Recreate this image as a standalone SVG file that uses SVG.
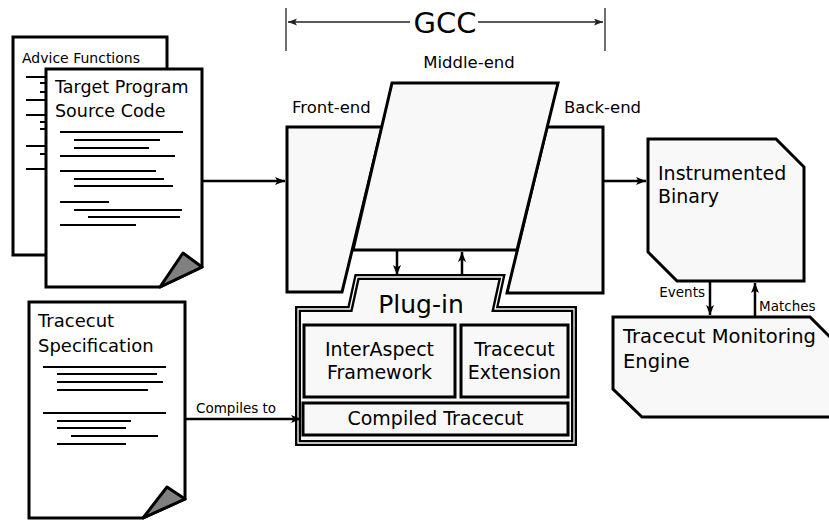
<svg xmlns="http://www.w3.org/2000/svg" width="829" height="520" viewBox="0 0 829 520">
<defs>
<style>
.t{font-family:"DejaVu Sans","Liberation Sans",sans-serif;fill:#000}
.shape{fill:#f8f8f8;stroke:#000;stroke-width:3;stroke-linejoin:miter}
.doc{fill:#fff;stroke:#000;stroke-width:3;stroke-linejoin:miter}
.flap{fill:#808080;stroke:#000;stroke-width:3;stroke-linejoin:round}
.ln{stroke:#000;stroke-width:2;fill:none}
.conn{stroke:#000;stroke-width:2.5;fill:none}
.thin{stroke:#222;stroke-width:1.3;fill:none}
</style>
<marker id="ah" markerUnits="userSpaceOnUse" markerWidth="12" markerHeight="10" refX="10" refY="4" orient="auto">
<path d="M0,0 L10,4 L0,8 L2.5,4 z" fill="#000"/>
</marker>
<marker id="ahs" markerUnits="userSpaceOnUse" markerWidth="12" markerHeight="10" refX="9" refY="3.5" orient="auto">
<path d="M0,0 L9,3.5 L0,7 L2,3.5 z" fill="#222"/>
</marker>
</defs>

<g id="gcc-label">
<line class="thin" x1="286" y1="8" x2="286" y2="51"/>
<line class="thin" x1="605" y1="8" x2="605" y2="51"/>
<line class="thin" x1="410" y1="22" x2="288" y2="22" marker-end="url(#ahs)"/>
<line class="thin" x1="478" y1="22" x2="603" y2="22" marker-end="url(#ahs)"/>
<text class="t" x="445" y="33" font-size="29" text-anchor="middle">GCC</text>
</g>

<g id="advice-functions">
<rect class="doc" x="13" y="37" width="154" height="218"/>
<text class="t" x="22" y="63" font-size="14">Advice Functions</text>
<path class="ln" d="M26,77H46 M40,83H46 M40,92H46 M26,100H46 M26,115H46 M40,122H46 M40,129H46 M26,146H46 M40,154H46 M26,169H46"/>
</g>

<g id="target-program">
<path class="doc" d="M46,69 H202 V267 L160,287 H46 Z"/>
<path class="flap" d="M160,287 L183,253 L202,267 Z"/>
<text class="t" x="55" y="93" font-size="17.5">Target Program</text>
<text class="t" x="55" y="117" font-size="17.5">Source Code</text>
<path class="ln" d="M60,132H183 M74,140H160 M74,148H149 M60,156H175 M60,171H156 M74,179H164 M74,186H173 M60,202H109 M74,210H182 M88,217H180 M60,225H136"/>
</g>

<g id="tracecut-spec">
<path class="doc" d="M29,302 H185 V499 L143,518 H29 Z"/>
<path class="flap" d="M143,518 L167,487 L185,499 Z"/>
<text class="t" x="38" y="327" font-size="18">Tracecut</text>
<text class="t" x="38" y="352" font-size="18">Specification</text>
<path class="ln" d="M43,367H166 M57,374H157 M57,382H163 M57,390H148 M43,413H166 M57,421H131 M57,428H126 M71,436H158 M57,444H126"/>
</g>

<g id="front-end">
<path class="shape" d="M287,127 H382 L342,292 H287 Z"/>
<text class="t" x="292" y="113" font-size="16.5">Front-end</text>
</g>

<g id="back-end">
<path class="shape" d="M547,127 H603 V293 H507 Z"/>
<text class="t" x="564" y="113" font-size="16.5">Back-end</text>
</g>

<g id="middle-end">
<path class="shape" d="M392,83 H558 L517,250 H353 Z"/>
<text class="t" x="469" y="68" font-size="16.5" text-anchor="middle">Middle-end</text>
</g>

<g id="plug-in">
<path d="M357,277 H502 L495,309 H574 V443 H298 V309 H350 Z" fill="#f8f8f8" stroke="#000" stroke-width="6" stroke-linejoin="miter"/>
<path d="M357,277 H502 L495,309 H574 V443 H298 V309 H350 Z" fill="none" stroke="#fff" stroke-width="1.3" stroke-linejoin="miter"/>
<text class="t" x="421" y="313" font-size="25" text-anchor="middle">Plug-in</text>
</g>

<g id="interaspect">
<rect class="shape" x="304" y="325" width="151" height="72" stroke-width="3.5"/>
<text class="t" x="379.5" y="356" font-size="19" text-anchor="middle">InterAspect</text>
<text class="t" x="379.5" y="379" font-size="19" text-anchor="middle">Framework</text>
</g>

<g id="tracecut-extension">
<rect class="shape" x="461" y="325" width="107" height="72" stroke-width="3.5"/>
<text class="t" x="514.5" y="356" font-size="19" text-anchor="middle">Tracecut</text>
<text class="t" x="514.5" y="379" font-size="19" text-anchor="middle">Extension</text>
</g>

<g id="compiled-tracecut">
<rect class="shape" x="303" y="403" width="265" height="32" stroke-width="3.5"/>
<text class="t" x="435.5" y="425" font-size="19" text-anchor="middle">Compiled Tracecut</text>
</g>

<g id="instrumented-binary">
<path class="shape" d="M648,139 H776 L804,167 V281 H677 L648,252 Z"/>
<text class="t" x="658" y="180" font-size="19">Instrumented</text>
<text class="t" x="658" y="203" font-size="19">Binary</text>
</g>

<g id="monitoring-engine">
<path class="shape" d="M613,317 H810 L831,338 V417 H642 L613,389 Z"/>
<text class="t" x="623" y="343" font-size="19.5">Tracecut Monitoring</text>
<text class="t" x="623" y="368" font-size="19.5">Engine</text>
</g>

<g id="connectors">
<line class="conn" x1="203" y1="181" x2="285" y2="181" marker-end="url(#ah)"/>
<line class="conn" x1="604" y1="181" x2="646" y2="181" marker-end="url(#ah)"/>
<line class="conn" x1="397" y1="251" x2="397" y2="275" marker-end="url(#ah)"/>
<line class="conn" x1="462" y1="275" x2="462" y2="252" marker-end="url(#ah)"/>
<line class="conn" x1="186" y1="419" x2="301" y2="419" marker-end="url(#ah)"/>
<line class="conn" x1="710" y1="282" x2="710" y2="315" marker-end="url(#ah)"/>
<line class="conn" x1="755" y1="316" x2="755" y2="283" marker-end="url(#ah)"/>
<text class="t" x="196" y="413" font-size="13.5">Compiles to</text>
<text class="t" x="705" y="297" font-size="13.5" text-anchor="end">Events</text>
<text class="t" x="759" y="311" font-size="13.5">Matches</text>
</g>
</svg>
